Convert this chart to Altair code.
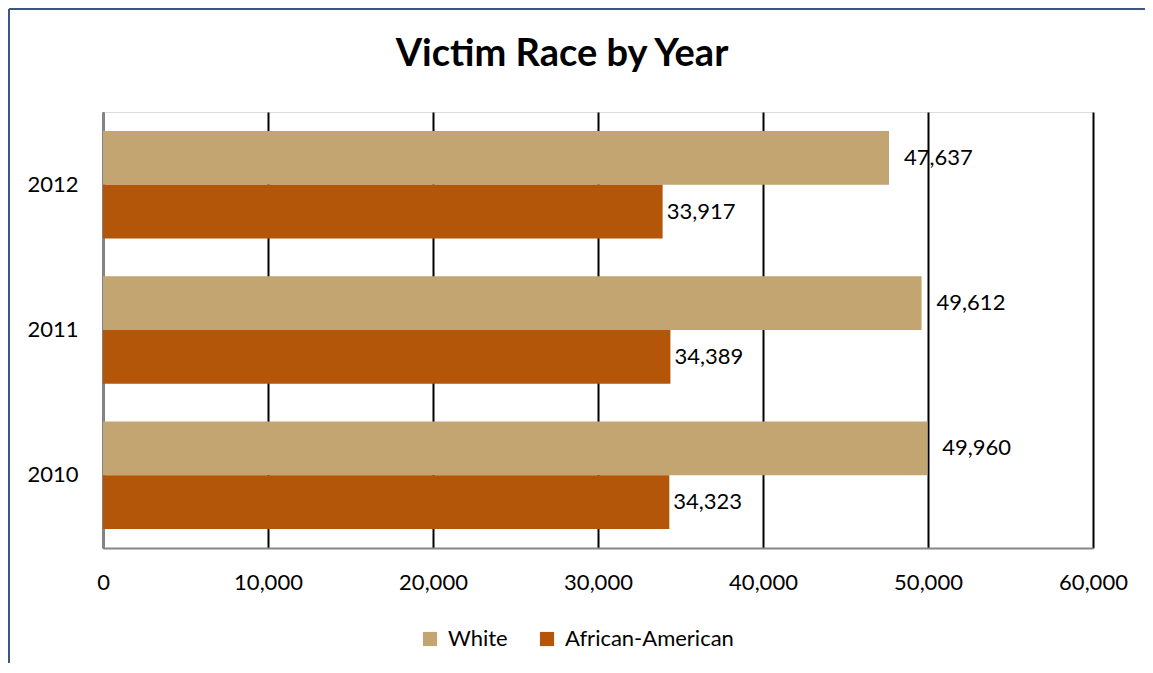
import altair as alt
import pandas as pd

years = ["2010", "2011", "2012"]
white = [49960, 49612, 47637]
african_american = [34323, 34389, 33917]
series = ["White", "African-American"]
colors = ["#C2A570", "#B3560A"]
x_ticks = [0, 10000, 20000, 30000, 40000, 50000, 60000]
year_order = ["2012", "2011", "2010"]

rows = []
for yr, w, a in zip(years, white, african_american):
    rows.append({"Year": yr, "Race": "White", "Victims": w})
    rows.append({"Year": yr, "Race": "African-American", "Victims": a})
df = pd.DataFrame(rows)

FONT = "Lato"

y_enc = alt.Y(
    "Year:N", sort=year_order,
    scale=alt.Scale(paddingInner=0.26, paddingOuter=0.13),
    axis=alt.Axis(title=None, ticks=False, labelFontSize=22, labelPadding=25,
                  labelFont=FONT, labelColor="black",
                  domainColor="#868686", domainWidth=2),
)
yoff = alt.YOffset("Race:N", sort=series)
x_enc = alt.X(
    "Victims:Q", scale=alt.Scale(domain=[0, 60000]),
    axis=alt.Axis(values=x_ticks, format=",.0f", title=None, grid=True,
                  gridColor="black", gridWidth=2, ticks=False,
                  labelPadding=24, labelFontSize=22, labelFont=FONT,
                  labelColor="black", domainColor="#868686", domainWidth=2,
                  labelFlush=False),
)
color = alt.Color(
    "Race:N", scale=alt.Scale(domain=series, range=colors),
    legend=alt.Legend(title=None, orient="none", legendX=316, legendY=516,
                      direction="horizontal", symbolType="square",
                      symbolSize=200, symbolStrokeWidth=0,
                      labelFontSize=22, labelFont=FONT, labelColor="black",
                      labelOffset=7, columnPadding=28, labelLimit=400),
)

base = alt.Chart(df)
bars = base.mark_bar().encode(x=x_enc, y=y_enc, yOffset=yoff, color=color)

labels_w = base.transform_filter(alt.datum.Race == "White").mark_text(
    align="left", baseline="middle", dx=15, fontSize=22, font=FONT, color="black"
).encode(x="Victims:Q", y=alt.Y("Year:N", sort=year_order), yOffset=yoff,
         text=alt.Text("Victims:Q", format=",.0f"))
labels_a = base.transform_filter(alt.datum.Race == "African-American").mark_text(
    align="left", baseline="middle", dx=4, fontSize=22, font=FONT, color="black"
).encode(x="Victims:Q", y=alt.Y("Year:N", sort=year_order), yOffset=yoff,
         text=alt.Text("Victims:Q", format=",.0f"))

frame_df = pd.DataFrame({"k": [0]})
frame_left = alt.Chart(frame_df).mark_rule(color="#3B5680", strokeWidth=2).encode(
    x=alt.value(-94), y=alt.value(-103), y2=alt.value(570))
frame_top = alt.Chart(frame_df).mark_rule(color="#3B5680", strokeWidth=2).encode(
    x=alt.value(-94), x2=alt.value(1100), y=alt.value(-103))

chart = alt.layer(bars, labels_w, labels_a, frame_left, frame_top).properties(
    width=990, height=436,
    padding={"left": 95, "top": 104, "right": 52, "bottom": 115},
    autosize=alt.AutoSizeParams(type="none"),
    title=alt.TitleParams("Victim Race by Year", fontSize=38, font=FONT,
                          fontWeight="bold", color="black", anchor="middle",
                          dx=-36, offset=0, dy=66),
).configure_view(stroke="black", strokeWidth=2).configure(background="white")

chart.save("out.html", embed_options={"renderer": "svg", "actions": False})
